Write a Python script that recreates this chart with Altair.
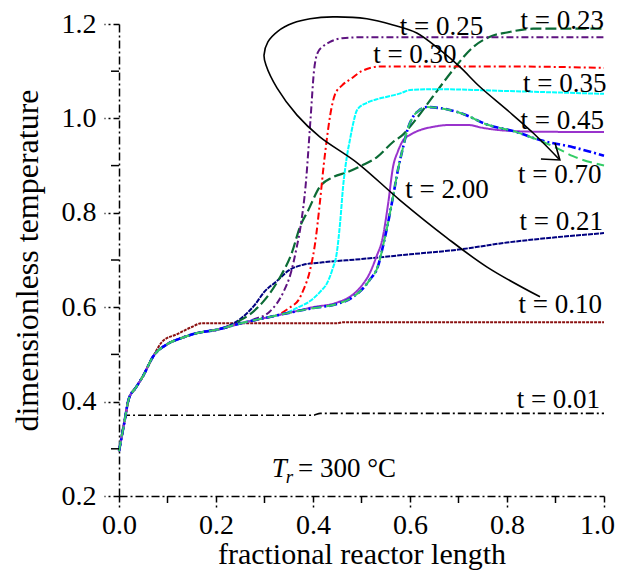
import altair as alt
import pandas as pd

FONT = "Liberation Serif"

# ---------------- axis values ----------------
x_major = [0.0, 0.2, 0.4, 0.6, 0.8, 1.0]
x_minor = [0.1, 0.3, 0.5, 0.7, 0.9]
y_major = [0.2, 0.4, 0.6, 0.8, 1.0, 1.2]
y_minor = [0.3, 0.5, 0.7, 0.9, 1.1]

# ---------------- series (fractional length, dimensionless temperature) ----------------
t001_x = [0.0, 0.017, 0.40, 0.415, 1.0]
t001_y = [0.295, 0.371, 0.371, 0.375, 0.375]

t010_x = [0.0, 0.01, 0.02, 0.035, 0.05, 0.07, 0.09, 0.12, 0.15, 0.17, 0.45, 0.46, 1.0]
t010_y = [0.295, 0.35, 0.405, 0.43, 0.455, 0.495, 0.528, 0.543, 0.558, 0.566, 0.566, 0.568, 0.568]

t021_x = [0.0, 0.01, 0.02, 0.035, 0.05, 0.07, 0.1, 0.13, 0.16, 0.2, 0.22, 0.25, 0.28, 0.30,
          0.325, 0.35, 0.38, 0.42, 0.5, 0.6, 0.7, 0.8, 0.9, 1.0]
t021_y = [0.295, 0.35, 0.405, 0.43, 0.455, 0.495, 0.522, 0.535, 0.545, 0.552, 0.558, 0.575,
          0.605, 0.633, 0.655, 0.678, 0.69, 0.695, 0.702, 0.712, 0.722, 0.737, 0.748, 0.757]

t023_x = [0.0, 0.01, 0.02, 0.035, 0.05, 0.07, 0.1, 0.13, 0.16, 0.2, 0.23, 0.25, 0.27, 0.3,
          0.33, 0.357, 0.373, 0.39, 0.414, 0.44, 0.47, 0.5, 0.532, 0.565, 0.585, 0.606, 0.647,
          0.689, 0.73, 0.77, 0.8, 0.854, 0.9, 1.0]
t023_y = [0.295, 0.35, 0.405, 0.43, 0.455, 0.495, 0.522, 0.535, 0.545, 0.552, 0.56, 0.572,
          0.585, 0.615, 0.66, 0.717, 0.77, 0.805, 0.855, 0.875, 0.886, 0.9, 0.918, 0.95, 0.965,
          0.99, 1.046, 1.103, 1.151, 1.175, 1.182, 1.19, 1.19, 1.19]

t025_x = [0.0, 0.01, 0.02, 0.035, 0.05, 0.07, 0.1, 0.13, 0.16, 0.2, 0.23, 0.26, 0.28, 0.31,
          0.338, 0.355, 0.365, 0.375, 0.385, 0.395, 0.402, 0.41, 0.42, 0.435, 0.46, 0.5, 0.7, 1.0]
t025_y = [0.295, 0.35, 0.405, 0.43, 0.455, 0.495, 0.522, 0.535, 0.545, 0.552, 0.56, 0.568,
          0.575, 0.59, 0.63, 0.675, 0.72, 0.775, 0.86, 1.0, 1.1, 1.14, 1.152, 1.162, 1.17,
          1.172, 1.172, 1.172]

t030_x = [0.0, 0.01, 0.02, 0.035, 0.05, 0.07, 0.1, 0.13, 0.16, 0.2, 0.23, 0.26, 0.3, 0.33,
          0.353, 0.37, 0.38, 0.394, 0.405, 0.414, 0.422, 0.429, 0.436, 0.445, 0.46, 0.48, 0.5,
          0.54, 0.6, 0.8, 1.0]
t030_y = [0.295, 0.35, 0.405, 0.43, 0.455, 0.495, 0.522, 0.535, 0.545, 0.552, 0.56, 0.568,
          0.577, 0.585, 0.6, 0.615, 0.636, 0.679, 0.74, 0.82, 0.9, 0.96, 1.01, 1.05, 1.07,
          1.085, 1.1, 1.11, 1.11, 1.11, 1.107]

t035_x = [0.0, 0.01, 0.02, 0.035, 0.05, 0.07, 0.1, 0.13, 0.16, 0.2, 0.23, 0.26, 0.3, 0.35,
          0.37, 0.394, 0.415, 0.429, 0.44, 0.449, 0.456, 0.462, 0.47, 0.476, 0.483, 0.491,
          0.511, 0.53, 0.553, 0.58, 0.6, 0.65, 0.8, 1.0]
t035_y = [0.295, 0.35, 0.405, 0.43, 0.455, 0.495, 0.522, 0.535, 0.545, 0.552, 0.56, 0.568,
          0.577, 0.59, 0.6, 0.613, 0.633, 0.651, 0.68, 0.715, 0.78, 0.855, 0.92, 0.954, 0.99,
          1.018, 1.033, 1.04, 1.046, 1.053, 1.06, 1.062, 1.058, 1.052]

t045_x = [0.0, 0.01, 0.02, 0.035, 0.05, 0.07, 0.1, 0.13, 0.16, 0.2, 0.23, 0.26, 0.3, 0.35,
          0.4, 0.45, 0.48, 0.5, 0.517, 0.53, 0.544, 0.555, 0.565, 0.575, 0.586, 0.6, 0.62,
          0.647, 0.68, 0.72, 0.75, 0.786, 0.85, 1.0]
t045_y = [0.295, 0.35, 0.405, 0.43, 0.455, 0.495, 0.522, 0.535, 0.545, 0.552, 0.56, 0.568,
          0.577, 0.588, 0.6, 0.61, 0.625, 0.645, 0.672, 0.705, 0.749, 0.82, 0.897, 0.93, 0.954,
          0.965, 0.975, 0.982, 0.986, 0.986, 0.98, 0.975, 0.972, 0.971]

t070_x = [0.0, 0.01, 0.02, 0.035, 0.05, 0.07, 0.1, 0.13, 0.16, 0.2, 0.23, 0.26, 0.3, 0.35,
          0.4, 0.45, 0.48, 0.517, 0.535, 0.544, 0.555, 0.565, 0.575, 0.586, 0.596, 0.606, 0.62,
          0.635, 0.66, 0.682, 0.72, 0.751, 0.82, 0.868, 0.936, 1.0]
t070_y = [0.295, 0.35, 0.405, 0.43, 0.455, 0.495, 0.522, 0.535, 0.545, 0.552, 0.56, 0.568,
          0.577, 0.588, 0.598, 0.607, 0.62, 0.658, 0.69, 0.728, 0.78, 0.834, 0.89, 0.94, 0.98,
          1.003, 1.018, 1.024, 1.022, 1.018, 1.005, 0.99, 0.971, 0.954, 0.939, 0.921]

t200_x = [0.0, 0.01, 0.02, 0.035, 0.05, 0.07, 0.1, 0.13, 0.16, 0.2, 0.23, 0.26, 0.3, 0.35,
          0.4, 0.45, 0.48, 0.517, 0.535, 0.544, 0.555, 0.565, 0.575, 0.586, 0.596, 0.606, 0.62,
          0.635, 0.66, 0.682, 0.72, 0.751, 0.82, 0.86, 0.903, 0.936, 1.0]
t200_y = [0.295, 0.35, 0.405, 0.43, 0.455, 0.495, 0.522, 0.535, 0.545, 0.552, 0.56, 0.568,
          0.577, 0.588, 0.598, 0.607, 0.62, 0.658, 0.69, 0.728, 0.78, 0.834, 0.89, 0.94, 0.98,
          1.003, 1.018, 1.024, 1.022, 1.018, 1.005, 0.99, 0.971, 0.956, 0.937, 0.92, 0.9]

# annotation loop (time-direction arrow), in data units, in drawing order
loop_x = [0.868, 0.759, 0.676, 0.579, 0.491, 0.414, 0.367, 0.326, 0.303, 0.299, 0.307, 0.328,
          0.359, 0.394, 0.441, 0.511, 0.565, 0.614, 0.662, 0.703, 0.744, 0.8, 0.854, 0.907]
loop_y = [0.622, 0.685, 0.747, 0.827, 0.906, 0.961, 1.007, 1.064, 1.113, 1.134, 1.162, 1.185,
          1.202, 1.211, 1.215, 1.211, 1.198, 1.181, 1.145, 1.109, 1.067, 1.018, 0.969, 0.914]
head_x = [0.870, 0.909, 0.899]
head_y = [0.914, 0.912, 0.948]

# curve labels: text, x, y(baseline), align
label_text = ["t = 0.23", "t = 0.25", "t = 0.30", "t = 0.35", "t = 0.45", "t = 0.70",
              "t = 2.00", "t = 0.21", "t = 0.10", "t = 0.01"]
label_x = [1.0, 0.579, 0.524, 1.005, 1.0, 0.995, 0.59, 0.998, 0.996, 0.992]
label_y = [1.189, 1.177, 1.117, 1.056, 0.978, 0.863, 0.831, 0.764, 0.588, 0.386]
label_align = ["right", "left", "left", "right", "right", "right", "left", "right", "right", "right"]

series = [
    ("t=0.01", t001_x, t001_y, "#000000", [8, 3, 2, 3], 1.6),
    ("t=0.10", t010_x, t010_y, "#8B1010", [3, 1], 2.0),
    ("t=0.21", t021_x, t021_y, "#000080", [5, 1], 2.0),
    ("t=0.23", t023_x, t023_y, "#0B6B35", [11, 4], 2.2),
    ("t=0.25", t025_x, t025_y, "#5E1380", [7, 3, 2, 3], 2.0),
    ("t=0.30", t030_x, t030_y, "#FF0000", [7, 3, 2, 3], 2.0),
    ("t=0.35", t035_x, t035_y, "#00FFFF", [5, 1], 2.0),
    ("t=0.45", t045_x, t045_y, "#9933CC", [1, 0], 2.0),
    ("t=0.70", t070_x, t070_y, "#0000FF", [8, 3, 2, 3], 2.6),
    ("t=2.00", t200_x, t200_y, "#33CC66", [10, 5], 2.0),
]

x_scale = alt.Scale(domain=[0.0, 1.0], nice=False, zero=False)
y_scale = alt.Scale(domain=[0.2, 1.2], nice=False, zero=False)

axis_common = dict(
    grid=False, domainColor="black", domainWidth=1.5, domainDash=[8, 3, 2, 3],
    tickColor="black", tickWidth=1.5, tickDash=[6, 3, 2, 3],
    labelFont=FONT, labelFontSize=28, labelColor="black",
    titleFont=FONT, titleFontWeight="normal", titleColor="black",
    labelOverlap=False, format=".1f",
)

x_axis = alt.Axis(values=x_major, title="fractional reactor length", labelFlush=False,
                  labelOffset={"condition": {"test": "datum.value >= 0.99", "value": -7}, "value": 0},
                  tickSize=13, labelPadding=2, titlePadding=0, titleFontSize=30, **axis_common)
y_axis = alt.Axis(values=y_major, title="dimensionless temperature", titleFontSize=32,
                  tickSize=15, labelPadding=8, titlePadding=17, **axis_common)


def X():
    return alt.X("x:Q", scale=x_scale, axis=x_axis)


def Y():
    return alt.Y("y:Q", scale=y_scale, axis=y_axis)


layers = []
for name, xs, ys, color, dash, w in series:
    df = pd.DataFrame({"x": xs, "y": ys, "o": list(range(len(xs)))})
    layers.append(
        alt.Chart(df).mark_line(color=color, strokeDash=dash, strokeWidth=w,
                                interpolate="monotone").encode(x=X(), y=Y(), order="o:Q")
    )

loop_df = pd.DataFrame({"x": loop_x, "y": loop_y, "o": list(range(len(loop_x)))})
layers.append(
    alt.Chart(loop_df).mark_line(color="black", strokeWidth=1.6, interpolate="catmull-rom")
    .encode(x=X(), y=Y(), order="o:Q")
)
head_df = pd.DataFrame({"x": head_x, "y": head_y, "o": list(range(len(head_x)))})
layers.append(
    alt.Chart(head_df).mark_line(color="black", strokeWidth=1.6)
    .encode(x=X(), y=Y(), order="o:Q")
)

# minor ticks
xminor_df = pd.DataFrame({"x": x_minor})
layers.append(
    alt.Chart(xminor_df).mark_rule(color="black", strokeWidth=1.5)
    .encode(x=X(), y=alt.value(472), y2=alt.value(479))
)
yminor_df = pd.DataFrame({"y": y_minor})
layers.append(
    alt.Chart(yminor_df).mark_rule(color="black", strokeWidth=1.5)
    .encode(y=Y(), x=alt.value(0), x2=alt.value(-8))
)

# curve labels
lab_df = pd.DataFrame({"t": label_text, "x": label_x, "y": label_y, "a": label_align})
for al in ["left", "right"]:
    layers.append(
        alt.Chart(lab_df[lab_df["a"] == al]).mark_text(
            font=FONT, fontSize=27, align=al, baseline="alphabetic", color="black")
        .encode(x=X(), y=Y(), text="t:N")
    )

# T_r = 300 °C annotation
tr_text = ["T", "r", "= 300 °C"]
tr_x = [0.315, 0.344, 0.369]
tr_y = [0.240, 0.2275, 0.240]
tr_df = pd.DataFrame({"t": tr_text, "x": tr_x, "y": tr_y})
layers.append(
    alt.Chart(tr_df.iloc[[0]]).mark_text(font=FONT, fontSize=27, fontStyle="italic",
                                         align="left", baseline="alphabetic", color="black")
    .encode(x=X(), y=Y(), text="t:N")
)
layers.append(
    alt.Chart(tr_df.iloc[[1]]).mark_text(font=FONT, fontSize=19, fontStyle="italic",
                                         align="left", baseline="alphabetic", color="black")
    .encode(x=X(), y=Y(), text="t:N")
)
layers.append(
    alt.Chart(tr_df.iloc[[2]]).mark_text(font=FONT, fontSize=27,
                                         align="left", baseline="alphabetic", color="black")
    .encode(x=X(), y=Y(), text="t:N")
)

chart = alt.layer(*layers).properties(
    width=485, height=472,
    autosize=alt.AutoSizeParams(type="none"),
    padding={"left": 111, "top": 16, "right": 11, "bottom": 74},
).configure_view(stroke=None)

chart.save("out.html", embed_options={"renderer": "svg", "actions": False})
